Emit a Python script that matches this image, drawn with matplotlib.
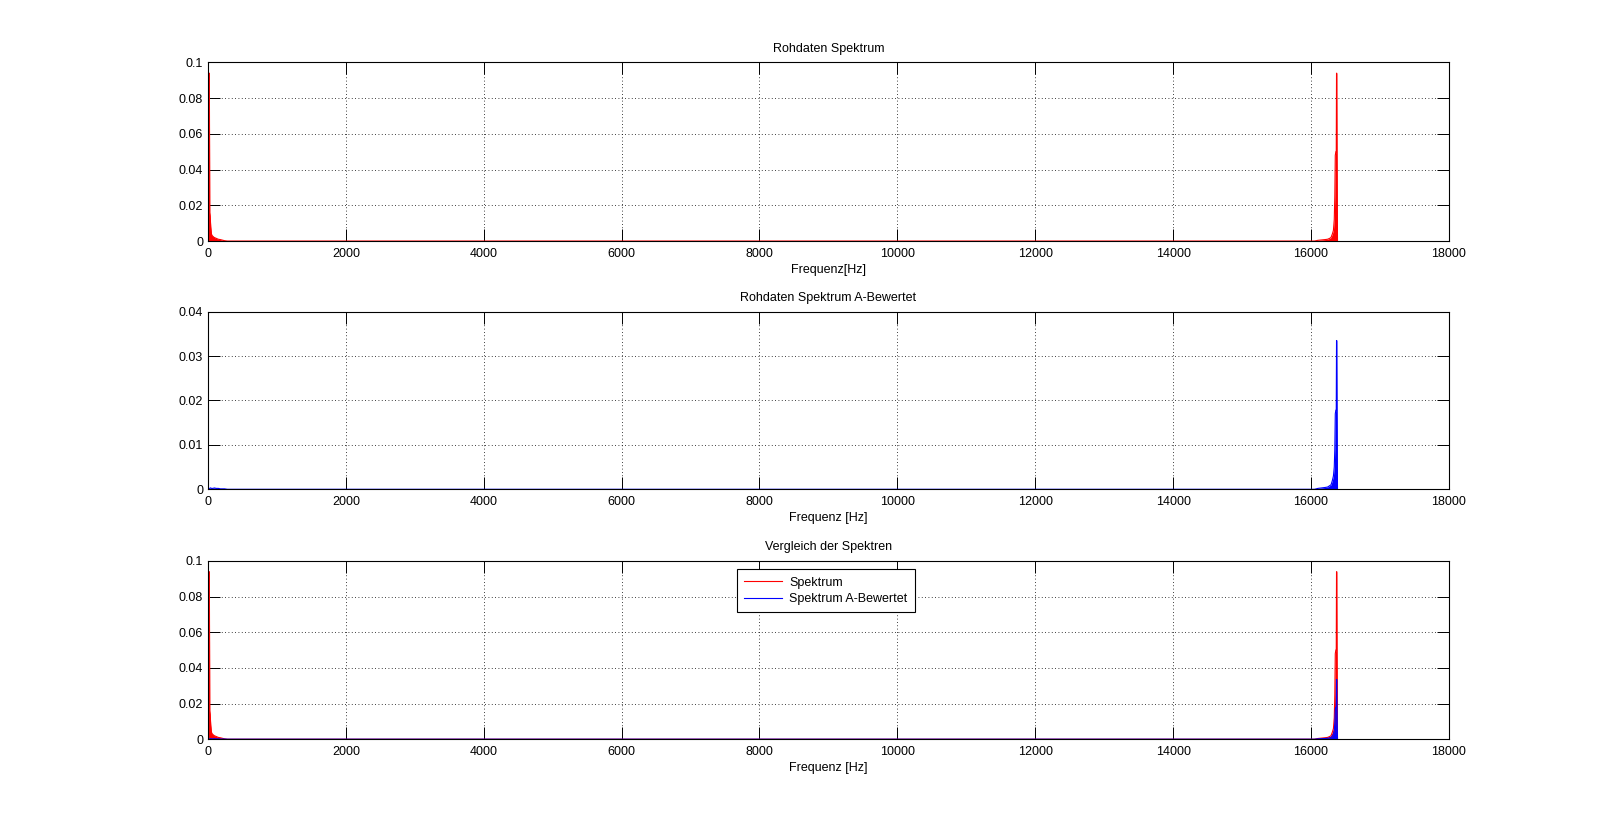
import matplotlib
matplotlib.use('Agg')
import matplotlib.pyplot as plt
from matplotlib.ticker import FormatStrFormatter

plt.rcParams['font.family'] = ['Liberation Sans', 'DejaVu Sans']
plt.rcParams['font.size'] = 9

# Frequenzen (Hz) um 0 Hz und um die Spiegelfrequenz
freq_lo = [0, 12, 20, 26, 32, 40, 50, 60, 75, 90, 120, 150, 180, 210, 240, 280]
freq_hi = [16050, 16100, 16150, 16200, 16240, 16270, 16290, 16310, 16325, 16337,
           16345, 16352, 16360, 16366, 16370, 16373, 16377, 16381, 16384]

# Betragsspektrum (Rohdaten)
spek_lo = [0.02, 0.094, 0.094, 0.016, 0.014, 0.008, 0.004, 0.003, 0.0025, 0.002,
           0.0015, 0.001, 0.0008, 0.0005, 0.0002, 0.0]
spek_hi = [0.0, 0.0004, 0.0006, 0.0008, 0.001, 0.0015, 0.002, 0.004, 0.006, 0.012,
           0.025, 0.048, 0.05, 0.05, 0.094, 0.094, 0.05, 0.02, 0.0]

# A-bewertetes Spektrum
spek_a_lo = [0.0, 0.0, 0.0001, 0.0002, 0.0003, 0.0003, 0.0002, 0.0002, 0.0002, 0.0003,
             0.0002, 0.0002, 0.0001, 0.0001, 0.0001, 0.0]
spek_a_hi = [0.0, 0.0002, 0.0003, 0.0004, 0.0005, 0.0008, 0.001, 0.002, 0.003, 0.005,
             0.009, 0.017, 0.0178, 0.0178, 0.0335, 0.0335, 0.0178, 0.007, 0.0]

titel = ['Rohdaten Spektrum', 'Rohdaten Spektrum A-Bewertet', 'Vergleich der Spektren']
xlabels = ['Frequenz[Hz]', 'Frequenz [Hz]', 'Frequenz [Hz]']
ymax = [0.1, 0.04, 0.1]
xticks = list(range(0, 18001, 2000))

f = freq_lo + freq_hi
spek = spek_lo + spek_hi
spek_a = spek_a_lo + spek_a_hi

fig = plt.figure(figsize=(16.01, 8.30), dpi=100)
positionen = [[0.1299, 0.7096, 0.7751, 0.2151],
              [0.1299, 0.4105, 0.7751, 0.2140],
              [0.1299, 0.1094, 0.7751, 0.2147]]


def zeichne(ax, y, farbe, name=None):
    ax.fill_between(f, 0, y, color=farbe, lw=0)
    ax.plot(f, y, color=farbe, lw=0.8, label=name)


axes = []
for i, pos in enumerate(positionen):
    ax = fig.add_axes(pos)
    axes.append(ax)
    ax.set_xlim(0, 18000)
    ax.set_ylim(0, ymax[i])
    ax.set_xticks(xticks)
    ax.yaxis.set_major_formatter(FormatStrFormatter('%g'))
    ax.set_title(titel[i], fontsize=9, pad=7.7)
    ax.set_xlabel(xlabels[i], fontsize=9, labelpad=3)
    ax.grid(True, color='black', linestyle=(0, (1, 3)), linewidth=0.6)
    ax.set_axisbelow(True)
    ax.tick_params(direction='in', length=8.6, width=0.7, top=True, right=True,
                   labelsize=9)
    ax.tick_params(axis='x', pad=5)
    ax.tick_params(axis='y', pad=3.5)
    for s in ax.spines.values():
        s.set_linewidth(0.8)

zeichne(axes[0], spek, 'red')
zeichne(axes[1], spek_a, 'blue')
zeichne(axes[2], spek, 'red', 'Spektrum')
zeichne(axes[2], spek_a, 'blue', 'Spektrum A-Bewertet')

leg = axes[2].legend(loc='upper left', bbox_to_anchor=(0.426, 0.955), borderaxespad=0,
                     fancybox=False, edgecolor='black', framealpha=1, fontsize=9,
                     handlelength=3.0, handletextpad=0.6, borderpad=0.6, labelspacing=0.35)
leg.get_frame().set_linewidth(0.8)

fig.savefig('out.png', dpi=100, facecolor='white')
